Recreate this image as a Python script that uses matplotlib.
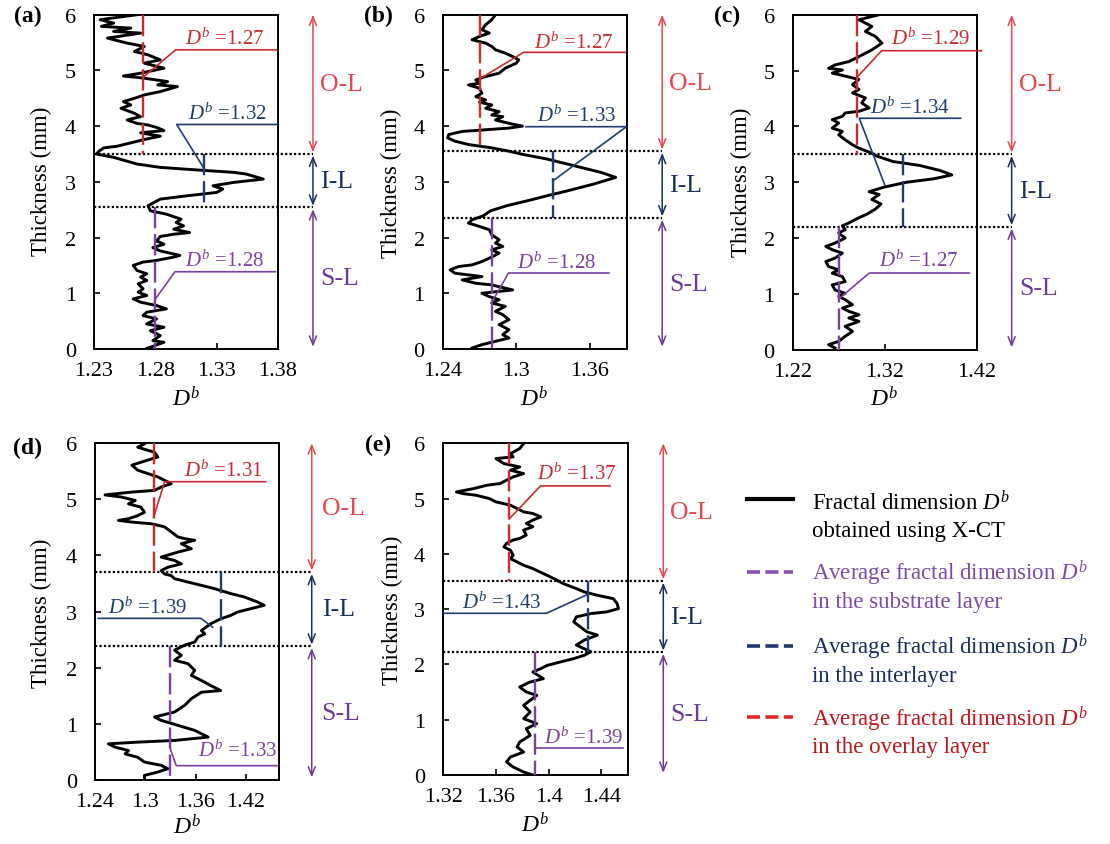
import matplotlib
matplotlib.use("Agg")
import matplotlib.pyplot as plt
from matplotlib.lines import Line2D

plt.rcParams.update({
    "font.family": ["Liberation Serif", "DejaVu Serif"],
    "mathtext.fontset": "custom",
    "mathtext.rm": "Liberation Serif",
    "mathtext.it": "Liberation Serif:italic",
    "mathtext.bf": "Liberation Serif:bold",
})

# ---------------- data: fractal dimension D^b versus thickness (mm) ----------------
thick_a = [6.0, 5.91, 5.85, 5.79, 5.76, 5.70, 5.67, 5.58, 5.49, 5.43,
           5.34, 5.28, 5.19, 5.13, 5.04, 4.95, 4.90, 4.86, 4.80, 4.74,
           4.71, 4.62, 4.56, 4.50, 4.44, 4.38, 4.32, 4.23, 4.17, 4.11,
           4.05, 4.02, 3.97, 3.92, 3.88, 3.82, 3.76, 3.70, 3.64, 3.61,
           3.55, 3.50,
           3.44, 3.32, 3.26, 3.23, 3.17, 3.14, 3.05, 2.99, 2.93, 2.87,
           2.81, 2.75, 2.69, 2.57,
           2.48, 2.42, 2.33, 2.27, 2.21, 2.15, 2.09, 2.06, 2.02, 1.94,
           1.88, 1.82, 1.76, 1.68, 1.65, 1.59, 1.56, 1.50, 1.41, 1.35,
           1.29, 1.23, 1.17, 1.08, 1.02, 0.96, 0.90, 0.84, 0.78, 0.72,
           0.66, 0.60, 0.54, 0.45, 0.39, 0.33, 0.24, 0.15, 0.12, 0.01]
db_a = [1.265, 1.235, 1.246, 1.236, 1.260, 1.246, 1.268, 1.241, 1.257, 1.271,
        1.263, 1.274, 1.284, 1.271, 1.287, 1.268, 1.254, 1.271, 1.290, 1.282,
        1.298, 1.284, 1.271, 1.263, 1.254, 1.260, 1.252, 1.263, 1.268, 1.257,
        1.265, 1.274, 1.282, 1.287, 1.268, 1.284, 1.271, 1.260, 1.249, 1.238,
        1.234, 1.232,
        1.246, 1.265, 1.284, 1.303, 1.344, 1.354, 1.368, 1.344, 1.327, 1.335,
        1.330, 1.306, 1.284, 1.274,
        1.276, 1.289, 1.301, 1.297, 1.303, 1.295, 1.308, 1.295, 1.284, 1.281,
        1.287, 1.278, 1.284, 1.300, 1.295, 1.281, 1.270, 1.262, 1.265, 1.273,
        1.268, 1.273, 1.266, 1.270, 1.266, 1.273, 1.262, 1.268, 1.281, 1.289,
        1.273, 1.270, 1.281, 1.273, 1.287, 1.276, 1.284, 1.278, 1.287, 1.273]

thick_b = [6.0, 5.91, 5.82, 5.73, 5.67, 5.61, 5.55, 5.49, 5.43, 5.37,
           5.31, 5.25, 5.19, 5.13, 5.04, 4.95, 4.89, 4.83, 4.77, 4.74,
           4.68, 4.59, 4.53, 4.47, 4.43, 4.38, 4.32, 4.26, 4.20, 4.17,
           4.11, 4.05, 4.00, 3.965, 3.935, 3.905, 3.85, 3.79, 3.73, 3.67,
           3.61, 3.55, 3.49,
           3.41, 3.29, 3.17, 3.08, 2.96, 2.84, 2.75, 2.66, 2.57, 2.48, 2.39,
           2.32, 2.26, 2.20, 2.14, 2.05, 1.96, 1.90, 1.84, 1.78, 1.72,
           1.63, 1.57, 1.51, 1.48, 1.42, 1.36, 1.33, 1.30, 1.24, 1.18,
           1.15, 1.06, 1.00, 0.94, 0.885, 0.825, 0.765, 0.675, 0.616, 0.526,
           0.437, 0.347, 0.257, 0.197, 0.138, 0.078, 0.018]
db_b = [1.283, 1.280, 1.275, 1.272, 1.278, 1.270, 1.264, 1.275, 1.280, 1.283,
        1.291, 1.297, 1.302, 1.300, 1.291, 1.286, 1.275, 1.267, 1.270, 1.261,
        1.270, 1.272, 1.267, 1.275, 1.270, 1.280, 1.275, 1.286, 1.280, 1.289,
        1.283, 1.294, 1.305, 1.294, 1.275, 1.256, 1.245, 1.244, 1.250, 1.261,
        1.280, 1.294, 1.306,
        1.325, 1.347, 1.369, 1.381, 1.363, 1.342, 1.325, 1.309, 1.292, 1.279, 1.273,
        1.264, 1.261, 1.270, 1.278, 1.280, 1.286, 1.283, 1.289, 1.280, 1.286,
        1.278, 1.272, 1.264, 1.253, 1.246, 1.250, 1.261, 1.272, 1.256, 1.267,
        1.280, 1.297, 1.272, 1.278, 1.286, 1.280, 1.291, 1.283, 1.289, 1.294,
        1.286, 1.294, 1.289, 1.294, 1.283, 1.272, 1.264]

thick_c = [6.0, 5.91, 5.79, 5.70, 5.61, 5.49, 5.37, 5.25, 5.16, 5.10,
           5.04, 5.01, 4.955, 4.90, 4.84, 4.75, 4.66, 4.60, 4.51, 4.42,
           4.33, 4.27, 4.24, 4.18, 4.12, 4.06, 3.97, 3.91, 3.85, 3.76,
           3.67, 3.61, 3.52,
           3.47, 3.37, 3.30, 3.21, 3.13, 3.06, 3.00, 2.91, 2.83, 2.78,
           2.69, 2.61, 2.52, 2.43, 2.34, 2.27,
           2.22, 2.15, 2.09, 2.00, 1.91, 1.85, 1.79, 1.73, 1.64, 1.58,
           1.49, 1.43, 1.37, 1.31, 1.22, 1.16, 1.07, 1.01, 0.955, 0.896,
           0.806, 0.746, 0.687, 0.627, 0.567, 0.507, 0.418, 0.328, 0.239, 0.149,
           0.09, 0.03]
db_c = [1.314, 1.292, 1.306, 1.299, 1.310, 1.317, 1.306, 1.292, 1.281, 1.266,
        1.259, 1.274, 1.263, 1.277, 1.292, 1.285, 1.292, 1.285, 1.299, 1.295,
        1.303, 1.292, 1.277, 1.274, 1.263, 1.270, 1.263, 1.274, 1.270, 1.277,
        1.285, 1.292, 1.306,
        1.311, 1.329, 1.358, 1.380, 1.393, 1.373, 1.344, 1.319, 1.303, 1.314,
        1.306, 1.316, 1.310, 1.301, 1.289, 1.281,
        1.274, 1.277, 1.270, 1.277, 1.266, 1.256, 1.263, 1.274, 1.266, 1.256,
        1.259, 1.270, 1.263, 1.274, 1.277, 1.263, 1.266, 1.277, 1.270, 1.277,
        1.285, 1.274, 1.281, 1.292, 1.281, 1.292, 1.277, 1.285, 1.277, 1.270,
        1.259, 1.266]

thick_d = [5.99, 5.93, 5.84, 5.755, 5.70, 5.61, 5.52, 5.46, 5.40, 5.34,
           5.28, 5.22, 5.16, 5.13, 5.08, 5.04, 4.98, 4.92, 4.86, 4.77,
           4.71, 4.655, 4.625, 4.595, 4.565, 4.51, 4.42, 4.33, 4.30, 4.27,
           4.21, 4.12, 4.06, 3.97, 3.91, 3.85, 3.79, 3.73, 3.67, 3.64,
           3.585, 3.525, 3.466, 3.41, 3.32, 3.26, 3.17, 3.11, 3.05, 2.99,
           2.93, 2.87, 2.78, 2.66, 2.60, 2.545, 2.455, 2.40, 2.31, 2.22,
           2.13, 2.07, 1.95, 1.86, 1.77, 1.68, 1.59, 1.56, 1.445, 1.326,
           1.207, 1.118, 1.058, 0.969, 0.88, 0.82, 0.76, 0.70, 0.67, 0.64,
           0.58, 0.52, 0.46, 0.40, 0.315, 0.256, 0.196, 0.137, 0.077, 0.018]
db_d = [1.299, 1.291, 1.311, 1.315, 1.303, 1.284, 1.291, 1.303, 1.315, 1.323,
        1.331, 1.319, 1.311, 1.284, 1.252, 1.272, 1.288, 1.280, 1.295, 1.299,
        1.291, 1.280, 1.268, 1.284, 1.307, 1.323, 1.331, 1.339, 1.347, 1.359,
        1.343, 1.355, 1.339, 1.319, 1.335, 1.343, 1.327, 1.319, 1.323, 1.331,
        1.335, 1.351, 1.367, 1.382, 1.402, 1.418, 1.434, 1.442, 1.426, 1.410,
        1.402, 1.390, 1.378, 1.367, 1.371, 1.363, 1.359, 1.347, 1.335, 1.343,
        1.335, 1.351, 1.359, 1.355, 1.367, 1.378, 1.390, 1.367, 1.355, 1.347,
        1.335, 1.311, 1.319, 1.339, 1.359, 1.367, 1.375, 1.335, 1.291, 1.256,
        1.264, 1.280, 1.276, 1.291, 1.299, 1.319, 1.327, 1.315, 1.299, 1.299]

thick_e = [5.995, 5.905, 5.814, 5.754, 5.724, 5.633, 5.573, 5.513, 5.452, 5.392,
           5.332, 5.271, 5.241, 5.181, 5.12, 5.09, 5.06, 5.00, 4.94, 4.88,
           4.82, 4.76, 4.73, 4.67, 4.61, 4.55, 4.49, 4.43, 4.34, 4.28,
           4.25, 4.19, 4.125, 4.065, 3.975, 3.914, 3.854, 3.794, 3.733, 3.643,
           3.552, 3.462, 3.372, 3.311, 3.251, 3.19, 3.10, 3.01, 2.95, 2.92,
           2.86, 2.77, 2.68, 2.59, 2.53, 2.44, 2.35, 2.23, 2.165, 2.105,
           2.045, 1.984, 1.924, 1.864, 1.743, 1.683, 1.592, 1.502, 1.441, 1.351,
           1.261, 1.14, 1.019, 0.929, 0.838, 0.718, 0.597, 0.507, 0.416, 0.326,
           0.235, 0.145, 0.054, 0.0]
db_e = [1.381, 1.378, 1.371, 1.373, 1.360, 1.366, 1.378, 1.371, 1.381, 1.373,
        1.368, 1.363, 1.353, 1.343, 1.330, 1.335, 1.345, 1.355, 1.360, 1.371,
        1.376, 1.381, 1.388, 1.394, 1.388, 1.383, 1.388, 1.381, 1.383, 1.378,
        1.373, 1.368, 1.366, 1.371, 1.373, 1.371, 1.376, 1.381, 1.388, 1.396,
        1.404, 1.411, 1.421, 1.427, 1.437, 1.449, 1.452, 1.453, 1.444, 1.432,
        1.421, 1.419, 1.424, 1.429, 1.437, 1.427, 1.421, 1.432, 1.427, 1.419,
        1.409, 1.399, 1.394, 1.388, 1.396, 1.386, 1.378, 1.383, 1.391, 1.386,
        1.381, 1.386, 1.381, 1.391, 1.383, 1.386, 1.378, 1.376, 1.381, 1.371,
        1.368, 1.373, 1.381, 1.388]

panel_tags = ["(a)", "(b)", "(c)", "(d)", "(e)"]
profiles = [(thick_a, db_a), (thick_b, db_b), (thick_c, db_c), (thick_d, db_d), (thick_e, db_e)]
boundary_upper = [3.50, 3.55, 3.50, 3.70, 3.51]   # overlay / interlayer
boundary_lower = [2.54, 2.35, 2.20, 2.38, 2.22]   # interlayer / substrate
mean_overlay = [1.27, 1.27, 1.29, 1.31, 1.37]
mean_inter = [1.32, 1.33, 1.34, 1.39, 1.43]
mean_substrate = [1.28, 1.28, 1.27, 1.33, 1.39]
x_limits = [(1.23, 1.38), (1.24, 1.39), (1.22, 1.42), (1.24, 1.46), (1.32, 1.46)]
x_ticks = [[1.23, 1.28, 1.33, 1.38], [1.24, 1.30, 1.36], [1.22, 1.32, 1.42],
           [1.24, 1.30, 1.36, 1.42], [1.32, 1.36, 1.40, 1.44]]
x_ticklabels = [["1.23", "1.28", "1.33", "1.38"], ["1.24", "1.3", "1.36"],
                ["1.22", "1.32", "1.42"], ["1.24", "1.3", "1.36", "1.42"],
                ["1.32", "1.36", "1.4", "1.44"]]
y_ticks = [0, 1, 2, 3, 4, 5, 6]
layer_names = ["O-L", "I-L", "S-L"]

# ---------------- styling ----------------
RED = "#cc2a30"
RED_LIGHT = "#e8474f"
NAVY = "#1f3d70"
NAVY_DARK = "#17305e"
PURPLE = "#7b40a2"
PURPLE_DARK = "#6e3a98"
layer_line_colors = [RED, NAVY, PURPLE]
layer_text_colors = [RED_LIGHT, NAVY_DARK, PURPLE_DARK]
MEAN_DASH = (9, 2.5)

W, H = 1110, 845
fig = plt.figure(figsize=(W / 100, H / 100), dpi=100)


def fx(px):
    return px / W


def fy(py):
    return 1 - py / H


# axes frames in pixels: left, top, right, bottom
frames = [(94, 15.7, 278, 350), (442.7, 15.7, 626.7, 350), (792.7, 15.7, 976.7, 350.7),
          (95, 444.3, 279.3, 780.7), (443.3, 444.3, 627.7, 776)]
arrow_x = [1.19, 1.193, 1.19, 1.176, 1.193]
tag_pos = [(28, 16), (378, 16), (727, 16), (28, 448), (378, 445)]
ylabel_pos = [(41.7, 181), (391.7, 183), (741.7, 182), (41.7, 613), (392.5, 610)]
xlabel_pos = [(186, 399), (534.7, 399), (884.7, 399), (187, 827), (535.5, 825)]

# leader lines of the mean-value callouts (None -> the layer mean)
leaders = [
    [dict(text=(1.3042, 5.47), path=[(1.3789, 5.37), (1.2966, 5.37), (None, 4.876)]),
     dict(text=(1.3069, 4.13), path=[(1.3797, 4.03), (1.2974, 4.03), (None, 3.23)]),
     dict(text=(1.3040, 1.495), path=[(1.378, 1.387), (1.296, 1.387), (None, 0.897)])],
    [dict(text=(1.3141, 5.41), path=[(1.389, 5.325), (1.306, 5.325), (None, 4.846)]),
     dict(text=(1.3169, 4.10), path=[(1.3079, 3.99), (1.3898, 3.99), (None, 3.02)]),
     dict(text=(1.3006, 1.466), path=[(1.3755, 1.364), (1.2937, 1.364), (None, 0.838)])],
    [dict(text=(1.3265, 5.475), path=[(1.4254, 5.355), (1.3167, 5.355), (None, 4.88)]),
     dict(text=(1.3040, 4.25), path=[(1.4026, 4.145), (1.2924, 4.145), (1.3203, 2.94)]),
     dict(text=(1.3142, 1.505), path=[(1.412, 1.374), (1.3033, 1.374), (None, 0.908)])],
    [dict(text=(1.3468, 5.42), path=[(1.4437, 5.315), (1.3231, 5.315), (None, 4.68)]),
     dict(text=(1.2558, 2.985), path=[(1.244, 2.878), (1.3666, 2.878), (1.3804, 2.718)]),
     dict(text=(1.3626, 0.428), path=[(None, 0.547), (1.337, 0.25), (1.4575, 0.25)])],
    [dict(text=(1.3912, 5.355), path=[(1.4466, 5.23), (1.3938, 5.23), (None, 4.63)]),
     dict(text=(1.3340, 3.03), path=[(1.32, 2.925), (1.3983, 2.925), (None, 3.27)]),
     dict(text=(1.3963, 0.59), path=[(None, 0.483), (1.4568, 0.483)])],
]

for i in range(5):
    l, t, r, b = frames[i]
    ax = fig.add_axes([fx(l), fy(b), fx(r) - fx(l), fy(t) - fy(b)])
    th, db = profiles[i]
    ax.plot(db, th, color="black", lw=2.1, solid_joinstyle="round", zorder=4)

    ax.set_xlim(*x_limits[i])
    ax.set_ylim(0, 6)
    ax.set_xticks(x_ticks[i])
    ax.set_xticklabels(x_ticklabels[i])
    ax.set_yticks(y_ticks)
    ax.tick_params(direction="in", length=4, width=1.2, labelsize=16,
                   top=False, right=False)
    ax.tick_params(axis="y", pad=13)
    ax.tick_params(axis="x", pad=9)
    for sp in ax.spines.values():
        sp.set_linewidth(1.4)

    up, lo = boundary_upper[i], boundary_lower[i]
    means = [mean_overlay[i], mean_inter[i], mean_substrate[i]]
    spans = [(6.0, up), (up, lo), (lo, 0.0)]

    # layer means as dashed verticals
    for k in range(3):
        ax.plot([means[k], means[k]], list(spans[k]), color=layer_line_colors[k],
                lw=1.7, dashes=MEAN_DASH, zorder=5)

    # layer boundaries
    yax = ax.get_yaxis_transform()
    for yb in (up, lo):
        ax.plot([0, arrow_x[i]], [yb, yb], transform=yax, color="black", lw=1.6,
                linestyle=(0, (1, 1)), clip_on=False, zorder=3)

    # layer extent arrows and names
    for k in range(3):
        y0, y1 = spans[k]
        ax.annotate("", xy=(arrow_x[i], y1 + (0.03 if k < 2 else 0.04)), xycoords=yax,
                    xytext=(arrow_x[i], y0 - (0.0 if k == 0 else 0.03)), textcoords=yax,
                    arrowprops=dict(arrowstyle="<->,head_length=0.45,head_width=0.18",
                                    color=layer_text_colors[k], lw=1.1,
                                    shrinkA=0, shrinkB=0, mutation_scale=14),
                    annotation_clip=False)
        ax.text(1.23, (y0 + y1) / 2, layer_names[k], transform=yax, ha="left",
                va="center", fontsize=18.5, color=layer_text_colors[k], clip_on=False)

    # mean value callouts
    for k in range(3):
        spec = leaders[i][k]
        xs = [means[k] if p[0] is None else p[0] for p in spec["path"]]
        ys = [p[1] for p in spec["path"]]
        ax.plot(xs, ys, color=layer_line_colors[k], lw=1.2, clip_on=False, zorder=6)
        ax.text(spec["text"][0], spec["text"][1], r"$D^b$ =%.2f" % means[k],
                ha="left", va="baseline", fontsize=15, color=layer_line_colors[k],
                zorder=7, clip_on=False)

    fig.text(fx(tag_pos[i][0]), fy(tag_pos[i][1]), panel_tags[i], ha="center",
             va="center", fontsize=17, fontweight="bold")
    fig.text(fx(ylabel_pos[i][0]), fy(ylabel_pos[i][1]), "Thickness (mm)",
             rotation=90, ha="center", va="center", fontsize=16.5)
    fig.text(fx(xlabel_pos[i][0]), fy(xlabel_pos[i][1]), r"$D^b$",
             ha="center", va="center", fontsize=17)

# ---------------- legend ----------------
legend_rows = [
    ("Fractal dimension $D^b$", "obtained using X-CT", "black", "black", None),
    ("Average fractal dimension $D^b$", "in the substrate layer", "#8a50b0", "#7d4ca6", (3.6, 1.5)),
    ("Average fractal dimension $D^b$", "in the interlayer", "#1f3a6e", "#1b2f5e", (3.6, 1.5)),
    ("Average fractal dimension $D^b$", "in the overlay layer", "#e02a2e", "#c0171d", (3.6, 1.5)),
]
legend_line_y = [500, 573.3, 646.7, 718.3]
legend_base_y = [(510, 536.7), (580, 607.7), (654, 681.7), (726, 752.7)]
for (line1, line2, lc, tc, dash), ly, (b1, b2) in zip(legend_rows, legend_line_y, legend_base_y):
    kw = dict(color=lc, lw=3.0 if dash is None else 2.6, transform=fig.transFigure)
    ln = Line2D([fx(746.7), fx(793.3)], [fy(ly), fy(ly)], **kw)
    if dash is not None:
        ln.set_dashes(dash)
    fig.add_artist(ln)
    fig.text(fx(811.7), fy(b1), line1, ha="left", va="baseline", fontsize=16.5, color=tc)
    fig.text(fx(811.7), fy(b2), line2, ha="left", va="baseline", fontsize=16.5, color=tc)

fig.savefig("out.png", dpi=100, facecolor="white")
